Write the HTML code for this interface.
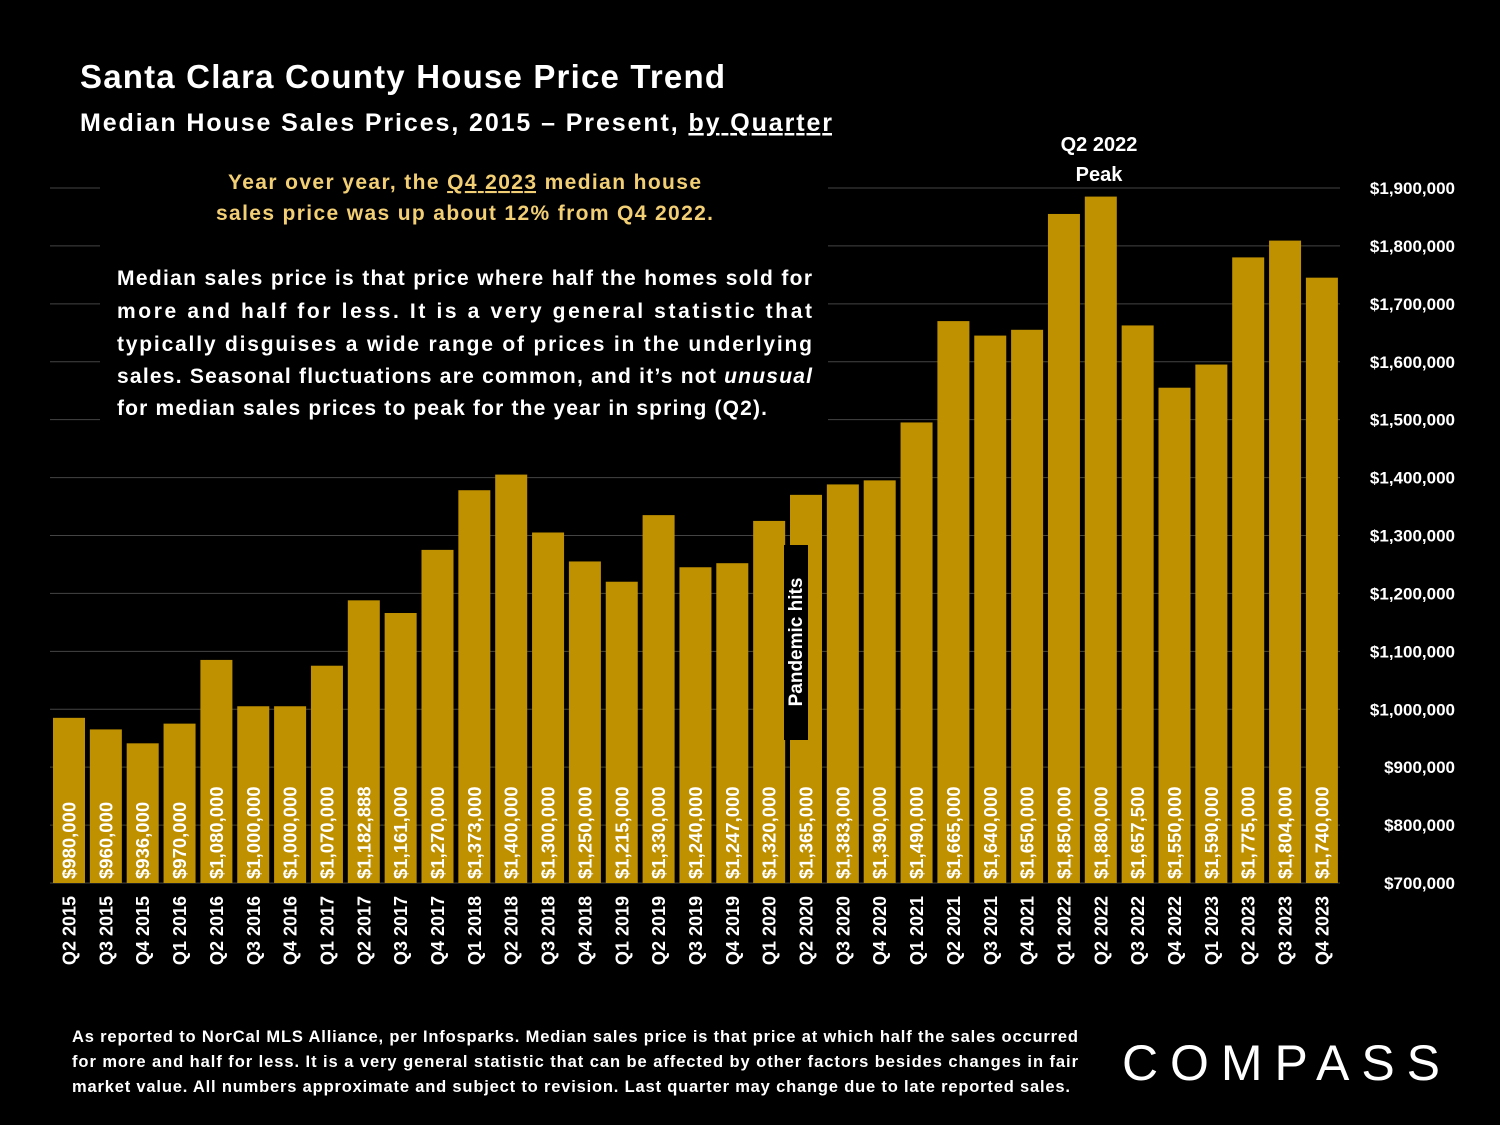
<!DOCTYPE html>
<html><head><meta charset="utf-8"><style>
body{margin:0;background:#000;}
svg{display:block;font-family:"Liberation Sans",sans-serif;}
</style></head><body>
<svg id="c" width="1500" height="1125" viewBox="0 0 1500 1125">
<rect width="1500" height="1125" fill="#000"/>
<text x="80" y="88" fill="#fff" font-size="33" font-weight="bold" textLength="645">Santa Clara County House Price Trend</text>
<text x="80" y="131" fill="#fff" font-size="25" font-weight="bold" textLength="752">Median House Sales Prices, 2015 – Present, <tspan text-decoration="underline">by Quarter</tspan></text>
<g id="grid"></g>
<g id="bars"></g>
<rect x="100" y="165" width="728" height="280" fill="#000"/>
<text x="228" y="189" fill="#f2cf75" font-size="21" font-weight="bold" textLength="473">Year over year, the <tspan text-decoration="underline">Q4 2023</tspan> median house</text>
<text x="216" y="220" fill="#f2cf75" font-size="21" font-weight="bold" textLength="497">sales price was up about 12% from Q4 2022.</text>
<g fill="#fff" font-size="21" font-weight="bold">
<text x="117" y="285" textLength="695">Median sales price is that price where half the homes sold for</text>
<text x="117" y="318" textLength="695">more and half for less. It is a very general statistic that</text>
<text x="117" y="351" textLength="695">typically disguises a wide range of prices in the underlying</text>
<text x="117" y="383" textLength="695">sales. Seasonal fluctuations are common, and it’s not <tspan font-style="italic">unusual</tspan></text>
<text x="117" y="415" textLength="650">for median sales prices to peak for the year in spring (Q2).</text>
</g>
<text x="1099" y="151" fill="#fff" font-size="20" font-weight="bold" text-anchor="middle">Q2 2022</text>
<text x="1099" y="181" fill="#fff" font-size="20" font-weight="bold" text-anchor="middle">Peak</text>
<rect x="784" y="545" width="24" height="195" fill="#000"/>
<text transform="translate(802,642) rotate(-90)" fill="#fff" font-size="19" font-weight="bold" text-anchor="middle">Pandemic hits</text>
<g fill="#fff" font-size="16.5" font-weight="bold">
<text x="72" y="1042" textLength="1006">As reported to NorCal MLS Alliance, per Infosparks. Median sales price is that price at which half the sales occurred</text>
<text x="72" y="1067" textLength="1006">for more and half for less. It is a very general statistic that can be affected by other factors besides changes in fair</text>
<text x="72" y="1092" textLength="998">market value. All numbers approximate and subject to revision. Last quarter may change due to late reported sales.</text>
</g>
<text x="1122" y="1080" fill="#fff" font-size="50" textLength="318">COMPASS</text>
</svg>
<script>
const categories=["Q2 2015","Q3 2015","Q4 2015","Q1 2016","Q2 2016","Q3 2016","Q4 2016","Q1 2017","Q2 2017","Q3 2017","Q4 2017","Q1 2018","Q2 2018","Q3 2018","Q4 2018","Q1 2019","Q2 2019","Q3 2019","Q4 2019","Q1 2020","Q2 2020","Q3 2020","Q4 2020","Q1 2021","Q2 2021","Q3 2021","Q4 2021","Q1 2022","Q2 2022","Q3 2022","Q4 2022","Q1 2023","Q2 2023","Q3 2023","Q4 2023"];
const values=[980000,960000,936000,970000,1080000,1000000,1000000,1070000,1182888,1161000,1270000,1373000,1400000,1300000,1250000,1215000,1330000,1240000,1247000,1320000,1365000,1383000,1390000,1490000,1665000,1640000,1650000,1850000,1880000,1657500,1550000,1590000,1775000,1804000,1740000];
const yTicks=[700000,800000,900000,1000000,1100000,1200000,1300000,1400000,1500000,1600000,1700000,1800000,1900000];
const NS="http://www.w3.org/2000/svg";
function y(v){return 883-(v-700000)*(695/1200000);}
function x(i){return 53+i*36.85;}
const bw=32;
const fmt=v=>"$"+v.toLocaleString("en-US");
const grid=document.getElementById("grid"),bars=document.getElementById("bars");
function mk(t,a,p){const e=document.createElementNS(NS,t);for(const k in a)e.setAttribute(k,a[k]);p.appendChild(e);return e;}
yTicks.forEach(v=>{
 const l=mk("line",{x1:50,x2:1340,y1:y(v),y2:y(v),stroke:"#444","stroke-width":1},grid);
 
 
 const t=mk("text",{x:1455,y:y(v)+6,fill:"#fff","font-size":17,"font-weight":"bold","text-anchor":"end"},grid);
 t.textContent=fmt(v);
 
 
});
values.forEach((v,i)=>{
 const top=y(v)-3;
 const r=mk("rect",{x:x(i),y:top,width:bw,height:883-top,fill:"#bf9000"},bars);
 
 
 const cx=x(i)+bw/2;
 const t=mk("text",{transform:`translate(${cx+6.5},879) rotate(-90)`,fill:"#fff","font-size":18.5,"font-weight":"bold"},bars);
 t.textContent=fmt(v);
 
 
 const c=mk("text",{transform:`translate(${cx+6.5},896) rotate(-90)`,fill:"#fff","font-size":18,"font-weight":"bold","text-anchor":"end"},bars);
 c.textContent=categories[i];
 
 
});
</script>
</body></html>
